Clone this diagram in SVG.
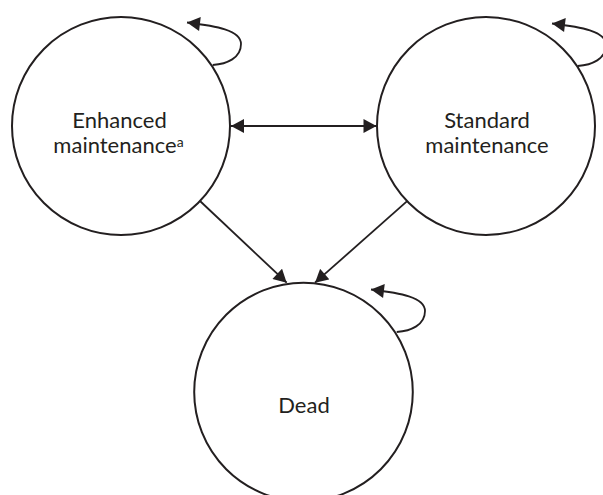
<svg xmlns="http://www.w3.org/2000/svg" width="603" height="495" viewBox="0 0 603 495">
  <defs>
    <style>
      .state { fill: #ffffff; stroke: #231f20; stroke-width: 2; }
      .edge { fill: none; stroke: #231f20; stroke-width: 1.8; }
      .label { font-family: Lato, "Open Sans", "Liberation Sans", sans-serif; font-size: 22px; fill: #231f20; text-anchor: middle; }
      .sup { font-size: 14px; }
    </style>
    <marker id="arrow" markerUnits="userSpaceOnUse" markerWidth="14" markerHeight="14" viewBox="0 0 13 14" refX="13" refY="7" orient="auto-start-reverse">
      <path d="M0,0 L13,7 L0,14 Z" fill="#231f20"/>
    </marker>
    <!-- self-transition loop, drawn relative to a state's centre -->
    <path id="selfloop" class="edge" d="M91.7,-61 C106,-62 120,-68 120,-82 C120,-96 95,-100 66,-103.5" marker-end="url(#arrow)"/>
  </defs>

  <g id="connectors">
    <line class="edge" x1="231" y1="126" x2="376.5" y2="126" marker-start="url(#arrow)" marker-end="url(#arrow)"/>
    <line class="edge" x1="200" y1="201" x2="286.7" y2="282.7" marker-end="url(#arrow)"/>
    <line class="edge" x1="407.7" y1="200.7" x2="315" y2="282.7" marker-end="url(#arrow)"/>
    <use href="#selfloop" transform="translate(121,126)"/>
    <use href="#selfloop" transform="translate(486,127)"/>
    <use href="#selfloop" transform="translate(305,393)"/>
  </g>

  <g id="enhanced">
    <circle class="state" cx="121" cy="126" r="109"/>
    <text class="label" x="119.5" y="127.7">Enhanced</text>
    <text class="label" x="118.5" y="152.7">maintenance<tspan class="sup" dy="-6">a</tspan></text>
  </g>

  <g id="standard">
    <circle class="state" cx="486" cy="126" r="109"/>
    <text class="label" x="487" y="127.7">Standard</text>
    <text class="label" x="487" y="152.7">maintenance</text>
  </g>

  <g id="dead">
    <circle class="state" cx="303.5" cy="392" r="109.3"/>
    <text class="label" x="304" y="412.7">Dead</text>
  </g>
</svg>
